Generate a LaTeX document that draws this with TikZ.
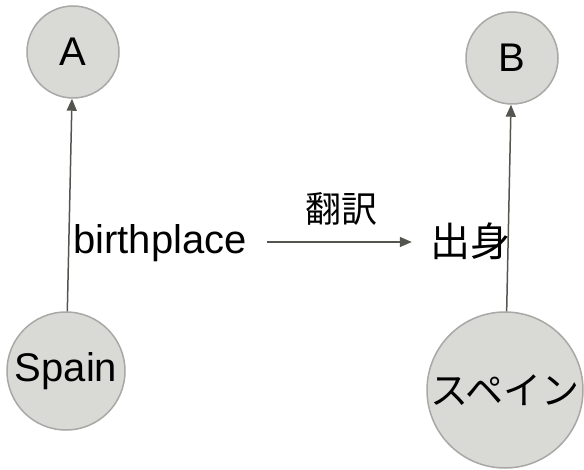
\documentclass[tikz,border=0pt]{standalone}
\usepackage{fontspec}
\setmainfont{Liberation Sans}
\newfontfamily\jpfont{Noto Sans CJK JP}
\usetikzlibrary{arrows.meta}
\definecolor{nodefill}{HTML}{D9D9D6}
\definecolor{nodeline}{HTML}{A8A8A6}
\definecolor{edgecol}{HTML}{555550}
\tikzset{
  entity/.style={circle, fill=nodefill, draw=nodeline, line width=1.5pt, inner sep=0pt, text=black},
  rel/.style={draw=edgecol, line width=1.5pt, -{Triangle[length=12pt,width=10pt]}},
  big/.style={font=\fontsize{40}{48}\selectfont},
  jp/.style={font=\jpfont\fontsize{38}{44}\selectfont},
}
\begin{document}
\begin{tikzpicture}[x=1pt,y=-1pt]
\useasboundingbox (0,0) rectangle (584,470);
% entities
\node[entity, big, minimum size=92pt] (A) at (73,52) {A};
\node[entity, big, minimum size=92pt] (B) at (512,58) {B};
\node[entity, big, minimum size=118pt] (sp) at (66,371) {Spain};
\node[entity, jp, minimum size=156pt] (spj) at (505,390) {スペイン};
% relations
\draw[rel] (sp) -- (A);
\draw[rel] (spj) -- (B);
% predicate labels
\node[big, inner sep=0pt] (bp) at (160,243) {birthplace};
\node[font=\jpfont\fontsize{40}{46}\selectfont, inner sep=0pt] (sh) at (470,241) {出身};
\node[font=\jpfont\fontsize{36}{42}\selectfont, inner sep=0pt] (tr) at (341,209) {翻訳};
\draw[rel, shorten <=20pt, shorten >=18pt] (bp.east |- 0,242) -- (sh.west |- 0,242);
\end{tikzpicture}
\end{document}
